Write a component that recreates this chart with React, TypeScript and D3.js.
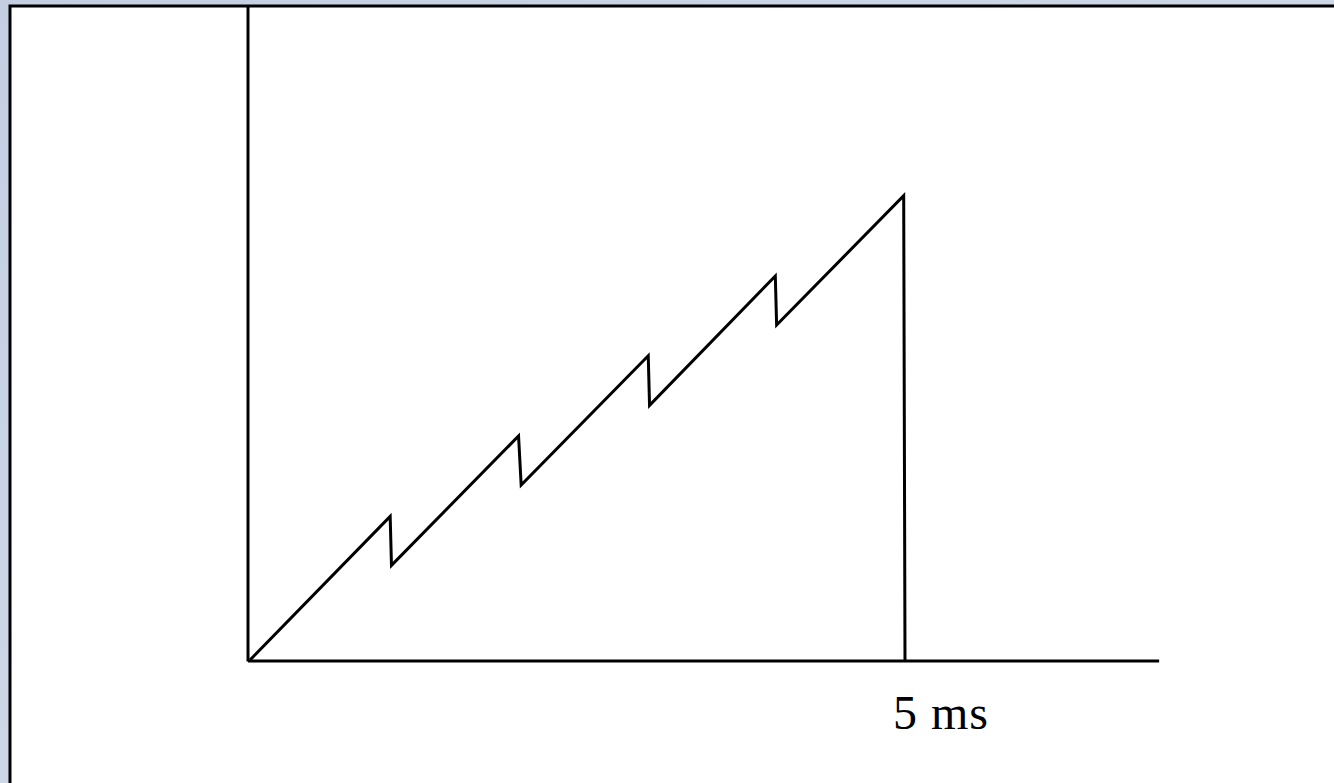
import React from 'react';
import * as d3 from 'd3';

// sawtooth trace
const timeMs = [0, 1.07, 1.08, 2.05, 2.07, 3.04, 3.05, 4.01, 4.02, 4.99, 5.0];
const level = [0, 22.0, 14.5, 34.3, 26.8, 46.6, 39.0, 58.8, 51.3, 71.1, 0];
const tickValues = [5];
const tickLabels = ['5 ms'];
const xAxisEnd = 6.94;

const W = 1334;
const H = 783;

const App: React.FC = () => {
  const x = d3.scaleLinear().domain([0, 5]).range([250, 905]);
  const y = d3.scaleLinear().domain([0, 100]).range([660, 7]);

  const pts: [number, number][] = timeMs.map((t, i) => [t, level[i]]);
  const line = d3.line<[number, number]>()
    .x(d => x(d[0]))
    .y(d => y(d[1]));

  return (
    <svg width={W} height={H} style={{ position: 'absolute', top: 0, left: 0 }}>
      <defs>
        <linearGradient id="bg" x1="0" y1="0" x2="1" y2="1">
          <stop offset="0" stopColor="#c3cfe1" />
          <stop offset="0.5" stopColor="#cdd7e6" />
          <stop offset="1" stopColor="#c6d1e2" />
        </linearGradient>
      </defs>
      <rect x={0} y={0} width={W} height={H} fill="url(#bg)" />
      {/* slide frame */}
      <rect x={10} y={6} width={W + 10} height={H + 10} fill="#fff" stroke="#000" strokeWidth={3} />

      {/* axes */}
      <line x1={x(0) - 2} x2={x(0) - 2} y1={6} y2={y(0) + 1.5} stroke="#000" strokeWidth={3} />
      <line x1={x(0) - 2} x2={x(xAxisEnd)} y1={y(0) + 1} y2={y(0) + 1} stroke="#000" strokeWidth={3} />

      <path d={line(pts) ?? ''} fill="none" stroke="#000" strokeWidth={3} strokeLinejoin="miter" />

      {tickValues.map((v, i) => (
        <text
          key={v}
          x={x(v) - 12}
          y={729}
          fontFamily="'Liberation Serif', serif"
          fontSize={48}
          letterSpacing={1}
          fill="#000"
        >
          {tickLabels[i]}
        </text>
      ))}
    </svg>
  );
};

export default App;
